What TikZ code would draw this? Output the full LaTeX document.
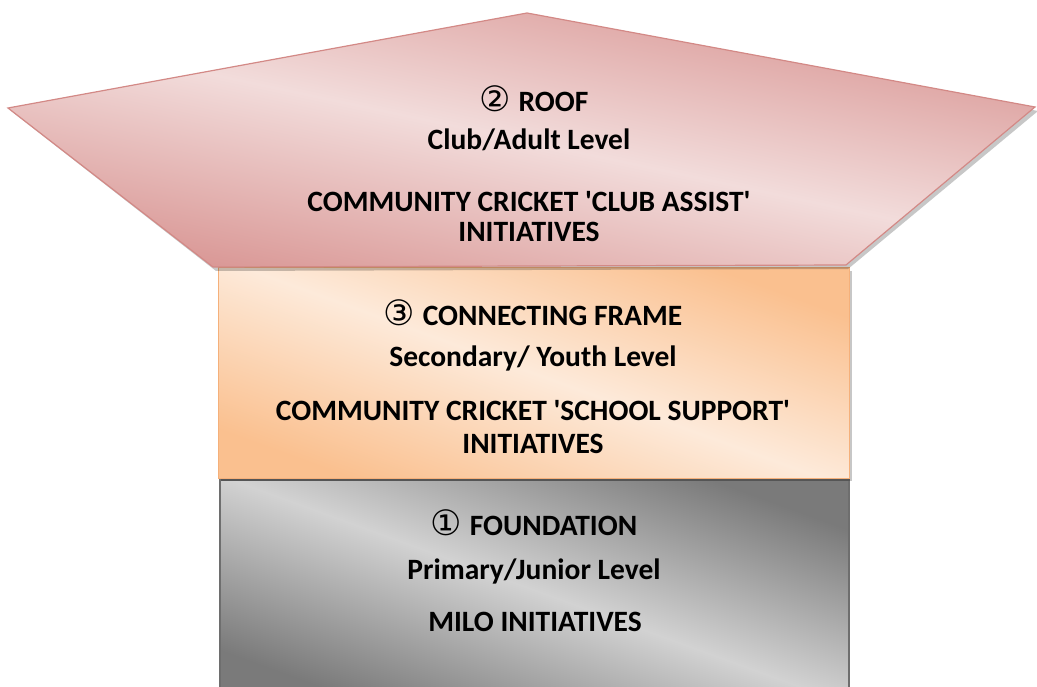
\documentclass[tikz,border=0pt]{standalone}
\usepackage{fontspec}
\setmainfont{Carlito}
\newfontfamily\circfont{DejaVu Sans}
\usetikzlibrary{positioning}

\definecolor{roofdark}{HTML}{D99694}
\definecolor{rooflight}{HTML}{F2DCDB}
\definecolor{roofline}{HTML}{D38986}
\definecolor{framedark}{HTML}{FAC08F}
\definecolor{framelight}{HTML}{FDEADA}
\definecolor{frameline}{HTML}{F5B07A}
\definecolor{foundlight}{HTML}{D2D2D2}
\definecolor{founddark}{HTML}{7A7A7A}
\definecolor{foundline}{HTML}{6E6E6E}

\newcommand{\circno}[1]{{\circfont\mdseries\fontsize{35}{35}\selectfont #1}\hspace{1pt}}
\newcommand{\sq}{\textquotesingle}

\begin{document}
\begin{tikzpicture}[x=1pt,y=-1pt,
    level/.style={font=\bfseries\fontsize{29.5}{33}\selectfont,align=center,inner sep=0pt},
    shadowed/.style={fill=black,opacity=0.22}
    ]
    \useasboundingbox (0,0) rectangle (1037,687);
    \clip (0,0) rectangle (1037,687);
    % foundation
    \shade[top color=founddark,bottom color=founddark,middle color=foundlight,shading angle=-20,
        draw=foundline,line width=1.2pt] (220,480) rectangle (849,700);
    % connecting frame
    \fill[shadowed] (221,271) rectangle (852,481);
    \shade[top color=framedark,bottom color=framedark,middle color=framelight,shading angle=-20,
        draw=frameline,line width=1pt] (218,268) rectangle (849,478);
    % roof
    \fill[shadowed] (11,111) -- (530,16) -- (1038,111) -- (848,269) -- (216,271) -- cycle;
    \shade[top color=roofdark,bottom color=roofdark,middle color=rooflight,shading angle=-12,
        draw=roofline,line width=1.2pt] (8,108) -- (527,13) -- (1035,107) -- (846,265) -- (213,267) -- cycle;
    % texts
    \node[level] (rooftitle) at (534,99) {\circno{②} ROOF};
    \node[level] (roofsub) at (529,140) {Club/Adult Level};
    \node[level,font=\bfseries\fontsize{29.5}{30}\selectfont] (roofmain) at (529,217) {COMMUNITY CRICKET \sq CLUB ASSIST\sq\\INITIATIVES};
    \node[level] (frametitle) at (533,313) {\circno{③} CONNECTING FRAME};
    \node[level] (framesub) at (533,358) {Secondary/ Youth Level};
    \node[level] (framemain) at (533,427) {COMMUNITY CRICKET \sq SCHOOL SUPPORT\sq\\INITIATIVES};
    \node[level] (foundtitle) at (534,523) {\circno{①} FOUNDATION};
    \node[level] (foundsub) at (534,571) {Primary/Junior Level};
    \node[level] (foundmain) at (535,622) {MILO INITIATIVES};
\end{tikzpicture}
\end{document}
